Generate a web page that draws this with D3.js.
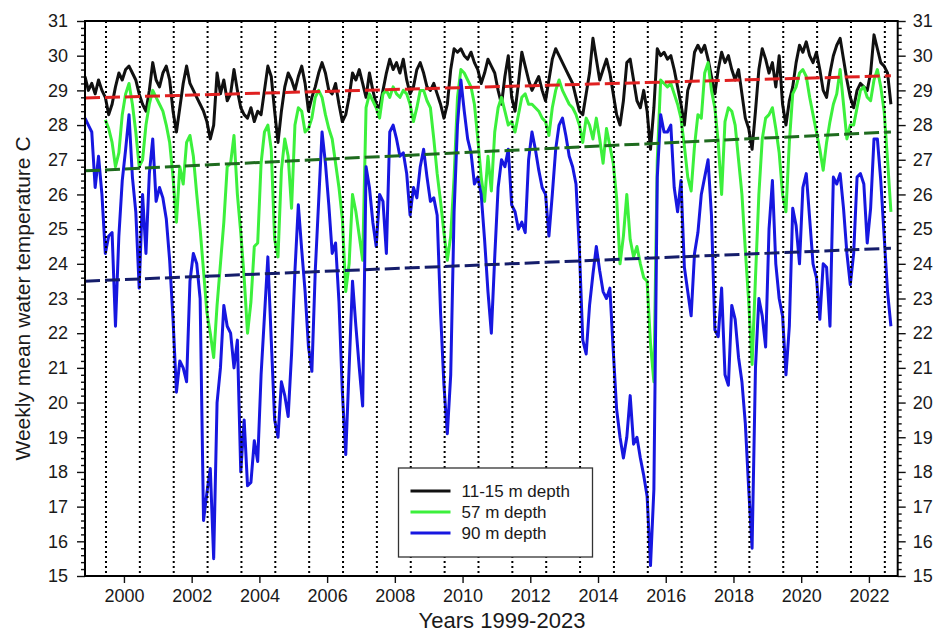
<!DOCTYPE html>
<html lang="en">
<head>
<meta charset="UTF-8">
<title>Weekly mean water temperature 1999-2023</title>
<script src="https://cdn.jsdelivr.net/npm/d3@7"></script>
<style>
  body { margin: 0; background: #fff; }
  svg text { font-family: "Liberation Sans", Arial, sans-serif; fill: #1a1a1a; }
</style>
</head>
<body>
<svg></svg>
<script>
const width = 938;
const height = 636;

// tick labels
const xTicks = [2000, 2002, 2004, 2006, 2008, 2010, 2012, 2014, 2016, 2018, 2020, 2022];
const yTicks = [15, 16, 17, 18, 19, 20, 21, 22, 23, 24, 25, 26, 27, 28, 29, 30, 31];

// mid-year marker lines
const markYears = [1999.47, 2000.47, 2001.47, 2002.47, 2003.47, 2004.47, 2005.47, 2006.47,
    2007.47, 2008.47, 2009.47, 2010.47, 2011.47, 2012.47, 2013.47, 2014.47, 2015.47,
    2016.47, 2017.47, 2018.47, 2019.47, 2020.47, 2021.47, 2022.47];

// series are sampled every 0.1 year
const step = 0.1;

// 11-15 m depth, from 1998.85
const shallowStart = 1998.85;
const shallow = [
    29.4, 29.0,
    29.2, 28.9, 29.3, 29.0, 28.8, 28.3, 28.6, 29.1, 29.5, 29.3, // 1999
    29.6, 29.7, 29.5, 29.3, 28.9, 28.6, 28.4, 29.0, 29.8, 29.3, // 2000
    29.1, 29.5, 29.7, 29.3, 28.4, 27.8, 28.5, 29.2, 29.7, 29.2, // 2001
    29.0, 28.8, 28.6, 28.4, 28.1, 27.6, 28.0, 29.5, 28.9, 29.3, // 2002
    28.7, 28.9, 29.6, 29.0, 28.5, 28.3, 28.2, 28.5, 28.1, 28.4, // 2003
    28.3, 29.0, 29.7, 29.4, 28.4, 27.5, 28.4, 29.1, 29.5, 29.3, // 2004
    29.0, 29.4, 29.7, 29.2, 28.4, 28.8, 29.1, 29.5, 29.8, 29.5, // 2005
    29.0, 28.9, 29.2, 28.6, 28.1, 28.3, 28.8, 29.5, 29.3, 29.6, // 2006
    29.2, 28.8, 29.5, 29.0, 28.6, 28.5, 29.0, 29.5, 29.9, 29.6, // 2007
    29.8, 29.5, 29.9, 29.3, 28.9, 29.1, 29.6, 29.8, 29.5, 29.1, // 2008
    29.0, 29.2, 28.9, 28.6, 28.2, 28.6, 29.6, 30.2, 30.1, 30.2, // 2009
    30.0, 29.9, 30.1, 29.8, 29.6, 29.2, 29.5, 29.9, 29.7, 29.5, // 2010
    29.0, 28.6, 29.4, 30.0, 28.8, 28.4, 29.2, 30.1, 29.7, 29.3, // 2011
    29.0, 29.2, 29.4, 29.0, 28.7, 29.3, 29.9, 30.2, 30.0, 29.8, // 2012
    29.6, 29.4, 29.2, 28.8, 28.4, 28.3, 28.9, 29.5, 30.5, 29.9, // 2013
    29.3, 29.6, 29.9, 29.5, 28.9, 28.3, 28.0, 28.7, 29.8, 29.9, // 2014
    29.3, 28.7, 28.5, 29.0, 28.4, 27.3, 28.5, 30.2, 30.0, 30.1, // 2015
    29.9, 30.0, 29.6, 29.1, 28.6, 28.0, 29.0, 29.3, 30.1, 30.3, // 2016
    30.1, 30.3, 29.9, 29.4, 28.9, 29.6, 30.1, 29.8, 30.0, 29.6, // 2017
    29.3, 29.6, 28.9, 28.2, 27.9, 27.3, 28.4, 29.6, 30.2, 29.9, // 2018
    29.5, 29.8, 29.1, 30.0, 28.6, 28.0, 28.7, 29.1, 29.8, 30.3, // 2019
    30.1, 30.4, 30.0, 29.8, 30.1, 29.6, 29.0, 28.8, 29.5, 30.0, // 2020
    30.3, 30.5, 29.9, 29.3, 28.8, 28.5, 29.0, 29.2, 29.1, 29.0, // 2021
    29.5, 30.6, 30.2, 29.8, 29.7, 29.5, 28.6                    // 2022
];

// 57 m depth, from 1999.45
const midStart = 1999.45;
const mid = [
    28.15, 27.9, 27.5, 26.8, 27.2, 28.3,                        // 1999
    28.9, 29.2, 28.6, 27.8, 26.8, 27.0, 28.0, 28.6, 29.0, 28.8, // 2000
    28.6, 28.4, 28.0, 27.5, 26.5, 25.2, 26.8, 26.3, 27.5, 27.7, // 2001
    27.1, 26.0, 25.0, 23.8, 22.6, 22.0, 21.3, 22.8, 24.0, 25.2, // 2002
    26.8, 26.9, 27.7, 26.0, 24.9, 23.6, 22.0, 22.9, 24.5, 24.6, // 2003
    26.9, 27.8, 28.0, 27.3, 24.7, 24.2, 26.7, 27.6, 27.1, 25.6, // 2004
    28.0, 28.5, 28.4, 27.8, 27.9, 28.2, 28.8, 29.0, 28.8, 28.3, // 2005
    27.9, 27.6, 26.9, 26.2, 25.3, 23.2, 24.0, 26.0, 25.5, 24.8, // 2006
    24.1, 28.5, 28.9, 28.7, 28.5, 28.2, 28.9, 29.0, 28.8, 29.1, // 2007
    28.9, 28.8, 29.0, 28.9, 28.6, 28.1, 28.5, 29.0, 29.0, 28.7, // 2008
    28.5, 27.6, 26.6, 25.8, 24.9, 24.1, 24.8, 26.5, 28.8, 29.6, // 2009
    29.5, 29.3, 29.1, 28.6, 27.6, 26.5, 25.8, 27.1, 26.1, 27.8, // 2010
    28.5, 28.8, 28.4, 28.0, 28.1, 27.8, 28.3, 28.8, 28.9, 28.6, // 2011
    28.6, 28.5, 28.4, 28.2, 28.1, 27.7, 28.5, 29.0, 29.3, 29.0, // 2012
    28.8, 28.6, 28.5, 28.3, 28.0, 27.5, 28.2, 28.0, 27.6, 28.2, // 2013
    27.6, 26.9, 27.9, 27.4, 26.9, 25.9, 24.0, 24.8, 26.0, 24.7, // 2014
    24.2, 24.5, 24.0, 23.6, 23.5, 21.7, 20.6, 27.0, 29.3, 29.2, // 2015
    29.1, 29.2, 28.9, 28.6, 28.2, 27.4, 26.5, 26.1, 27.4, 28.3, // 2016
    28.2, 29.5, 29.8, 29.0, 28.5, 27.5, 26.0, 28.1, 28.5, 28.4, // 2017
    28.0, 27.0, 26.0, 24.4, 22.9, 21.1, 23.6, 26.0, 27.6, 28.2, // 2018
    28.3, 28.5, 27.9, 27.2, 26.0, 25.5, 27.5, 28.9, 29.1, 29.5, // 2019
    29.6, 29.4, 28.8, 28.3, 27.8, 27.3, 26.7, 27.5, 28.1, 28.6, // 2020
    28.9, 29.6, 28.6, 27.6, 28.0, 28.0, 28.5, 29.0, 29.1, 28.8, // 2021
    28.7, 29.3, 29.6, 29.1, 28.4, 27.0, 25.5                    // 2022
];

// 90 m depth, from 1998.85
const deepStart = 1998.85;
const deep = [
    28.2, 28.0,
    27.8, 26.2, 27.1, 26.0, 24.3, 24.8, 24.9, 22.2, 24.8, 26.4, // 1999
    27.3, 28.3, 26.5, 25.5, 23.3, 26.0, 24.3, 26.6, 27.6, 25.8, // 2000
    26.2, 25.9, 25.3, 24.1, 22.4, 20.3, 21.2, 21.0, 20.6, 23.5, // 2001
    24.3, 24.0, 23.0, 16.6, 17.4, 18.1, 15.5, 20.0, 21.0, 22.8, // 2002
    22.2, 22.0, 21.0, 21.8, 18.0, 19.5, 17.6, 17.7, 18.9, 18.3, // 2003
    20.8, 22.5, 24.2, 21.8, 19.5, 19.0, 20.6, 20.2, 19.6, 21.4, // 2004
    23.8, 25.7, 24.4, 23.2, 21.6, 20.9, 23.8, 25.8, 27.8, 26.9, // 2005
    25.7, 24.3, 24.6, 22.9, 20.3, 18.5, 21.0, 23.5, 22.2, 21.0, // 2006
    19.9, 26.8, 26.2, 25.2, 24.5, 26.0, 25.8, 24.3, 27.8, 28.0, // 2007
    27.6, 27.1, 27.2, 26.6, 25.4, 26.2, 25.9, 26.8, 27.3, 26.5, // 2008
    25.8, 25.9, 25.4, 22.6, 20.5, 19.1, 20.8, 25.5, 28.0, 29.3, // 2009
    28.4, 27.6, 27.2, 26.3, 26.5, 26.0, 24.7, 23.2, 22.0, 24.2, // 2010
    26.2, 27.0, 26.8, 27.3, 25.7, 25.5, 25.0, 25.2, 24.9, 27.0, // 2011
    27.8, 27.3, 26.7, 26.2, 26.0, 24.8, 26.0, 27.3, 28.0, 28.2, // 2012
    27.7, 27.1, 26.8, 26.3, 24.4, 21.8, 21.4, 22.8, 23.7, 24.5, // 2013
    23.8, 23.2, 23.0, 23.3, 21.5, 19.8, 19.0, 18.4, 19.0, 20.2, // 2014
    18.8, 19.0, 18.4, 17.9, 17.3, 15.3, 17.5, 26.5, 28.3, 27.8, // 2015
    27.8, 28.0, 26.2, 25.5, 26.4, 23.9, 23.2, 22.5, 24.3, 24.9, // 2016
    26.0, 26.5, 27.0, 25.4, 22.1, 21.9, 23.3, 20.8, 20.5, 22.8, // 2017
    22.4, 21.3, 20.6, 19.4, 17.5, 15.8, 21.0, 23.0, 22.5, 21.6, // 2018
    25.0, 26.4, 24.0, 23.0, 22.5, 20.8, 22.2, 25.6, 25.1, 24.0, // 2019
    26.2, 26.6, 25.3, 24.0, 23.6, 22.4, 24.0, 23.9, 22.2, 26.5, // 2020
    26.3, 26.6, 25.6, 24.3, 23.4, 24.3, 26.5, 26.6, 26.3, 24.6, // 2021
    25.6, 27.6, 27.6, 26.4, 24.8, 23.2, 22.2                    // 2022
];

// linear trend lines (start and end values)
const trendYears = [1998.85, 2022.65];
const trendShallow = [28.78, 29.42];
const trendMid = [26.68, 27.8];
const trendDeep = [23.5, 24.45];

const legendLabels = ["11-15 m depth", "57 m depth", "90 m depth"];

const svg = d3.select("svg")
    .attr("width", width)
    .attr("height", height);

const plot = {left: 85, right: 897.7, top: 21, bottom: 576};

const x = d3.scaleLinear()
    .domain([1998.85, 2022.85])
    .range([plot.left, plot.right]);

const y = d3.scaleLinear()
    .domain([15, 31])
    .range([plot.bottom, plot.top]);

const minorY = d3.range(15, 31.001, 0.2).filter(v => Math.abs(v - Math.round(v)) > 0.01);

function styleAxis(g, size) {
    g.select(".domain").remove();
    g.selectAll(".tick line").attr("stroke", "#111").attr("stroke-width", 1.4);
    g.selectAll("text")
        .attr("font-family", "Liberation Sans, Arial, sans-serif")
        .attr("font-size", size)
        .attr("fill", "#1a1a1a");
}

// y axes: minor + major ticks, left and right
svg.append("g")
    .attr("transform", `translate(${plot.left},0)`)
    .call(d3.axisLeft(y).tickValues(minorY).tickSize(4).tickFormat(""))
    .call(g => styleAxis(g, 18));
svg.append("g")
    .attr("transform", `translate(${plot.left},0)`)
    .call(d3.axisLeft(y).tickValues(yTicks).tickSize(8).tickPadding(9).tickFormat(d3.format("d")))
    .call(g => styleAxis(g, 18));
svg.append("g")
    .attr("transform", `translate(${plot.right},0)`)
    .call(d3.axisRight(y).tickValues(minorY).tickSize(4).tickFormat(""))
    .call(g => styleAxis(g, 18));
svg.append("g")
    .attr("transform", `translate(${plot.right},0)`)
    .call(d3.axisRight(y).tickValues(yTicks).tickSize(8).tickPadding(7).tickFormat(d3.format("d")))
    .call(g => styleAxis(g, 18));

// x axis
svg.append("g")
    .attr("transform", `translate(0,${plot.bottom})`)
    .call(d3.axisBottom(x).tickValues(xTicks).tickSize(7).tickPadding(6).tickFormat(d3.format("d")))
    .call(g => styleAxis(g, 18));

// series
const toPoints = (vals, t0) => vals.map((v, i) => ({t: t0 + i * step, v: v}));
const line = d3.line().x(d => x(d.t)).y(d => y(d.v));

const series = [
    {vals: shallow, start: shallowStart, color: "#111111"},
    {vals: mid, start: midStart, color: "#3cf03c"},
    {vals: deep, start: deepStart, color: "#1717e0"}
];

const gSeries = svg.append("g");
series.forEach(s => {
    gSeries.append("path")
        .datum(toPoints(s.vals, s.start))
        .attr("fill", "none")
        .attr("stroke", s.color)
        .attr("stroke-width", 3)
        .attr("stroke-linejoin", "round")
        .attr("d", line);
});

// dotted mid-year lines
svg.append("g")
    .selectAll("line")
    .data(markYears)
    .enter()
    .append("line")
        .attr("x1", d => x(d))
        .attr("x2", d => x(d))
        .attr("y1", plot.top)
        .attr("y2", plot.bottom)
        .attr("stroke", "#000")
        .attr("stroke-width", 2)
        .attr("stroke-dasharray", "2,3");

// trend lines
const trends = [
    {vals: trendShallow, color: "#e02020"},
    {vals: trendMid, color: "#1e6b1e"},
    {vals: trendDeep, color: "#151d6b"}
];
const tline = d3.line().x(d => x(d[0])).y(d => y(d[1]));
trends.forEach(tr => {
    svg.append("path")
        .datum(trendYears.map((t, i) => [t, tr.vals[i]]))
        .attr("fill", "none")
        .attr("stroke", tr.color)
        .attr("stroke-width", 3)
        .attr("stroke-dasharray", "15,5")
        .attr("d", tline);
});

// frame
svg.append("rect")
    .attr("x", plot.left)
    .attr("y", plot.top)
    .attr("width", plot.right - plot.left)
    .attr("height", plot.bottom - plot.top)
    .attr("fill", "none")
    .attr("stroke", "#000")
    .attr("stroke-width", 2);

// legend
const legend = svg.append("g").attr("transform", "translate(398.5,468)");
legend.append("rect")
    .attr("width", 194)
    .attr("height", 89)
    .attr("fill", "#fff")
    .attr("stroke", "#333")
    .attr("stroke-width", 1.3);
legendLabels.forEach((lab, i) => {
    const ly = 23 + i * 21;
    legend.append("line")
        .attr("x1", 12).attr("x2", 52)
        .attr("y1", ly).attr("y2", ly)
        .attr("stroke", series[i].color)
        .attr("stroke-width", 3);
    legend.append("text")
        .attr("x", 63)
        .attr("y", ly)
        .attr("dy", "0.36em")
        .attr("font-size", 17)
        .text(lab);
});

// axis titles
svg.append("text")
    .attr("x", 502)
    .attr("y", 628)
    .attr("text-anchor", "middle")
    .attr("font-size", 22)
    .text("Years 1999-2023");

svg.append("text")
    .attr("transform", "translate(30,298.5) rotate(-90)")
    .attr("text-anchor", "middle")
    .attr("font-size", 21)
    .text("Weekly mean water temperature C");
</script>
</body>
</html>
